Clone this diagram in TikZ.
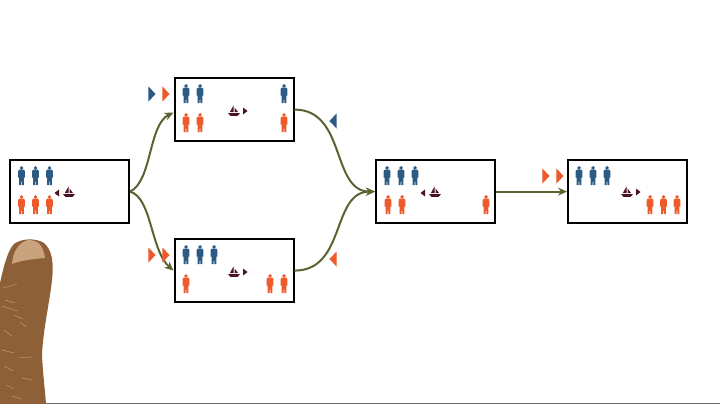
\documentclass[tikz,border=0pt]{standalone}
\usetikzlibrary{arrows.meta}
\usepackage{xcolor}
\definecolor{manblue}{HTML}{2B5A85}
\definecolor{manorange}{HTML}{EE5A2B}
\definecolor{boatred}{HTML}{4A1422}
\definecolor{linkgreen}{HTML}{5A6432}
\definecolor{skin}{HTML}{8E6038}
\definecolor{nail}{HTML}{C9A27E}
\tikzset{
 state/.style={draw=black, line width=2pt, fill=white, minimum width=119pt, minimum height=63pt, inner sep=0},
 link/.style={draw=linkgreen, line width=2pt, -{Stealth[length=9pt, width=8pt, inset=3pt]}},
 person/.pic={
  \fill[pic actions] (0,1.9) circle (1.9);
  \fill[pic actions] (-2.2,3.6) -- (2.2,3.6) -- (3.4,5) -- (3.4,11.5) -- (2.4,11.5) -- (2.4,19) -- (.5,19) -- (0,12.5) -- (-.5,19) -- (-2.4,19) -- (-2.4,11.5) -- (-3.4,11.5) -- (-3.4,5) -- cycle;
 },
 turnright/.pic={\fill[pic actions] (-3.7,-7.5) -- (3.7,0) -- (-3.7,7.5) -- cycle;},
 turnleft/.pic={\fill[pic actions] (3.7,-7.5) -- (-3.7,0) -- (3.7,7.5) -- cycle;},
 goright/.pic={\fill[boatred] (-2,-3.5) -- (2.5,0) -- (-2,3.5) -- cycle;},
 goleft/.pic={\fill[boatred] (2,-3.5) -- (-2.5,0) -- (2,3.5) -- cycle;},
 boat/.pic={
  \fill[boatred] (-.5,-5.5) -- (-4.2,1.2) -- (-.5,1.2) -- cycle;
  \fill[boatred] (.5,-3.5) -- (4.2,1.2) -- (.5,1.2) -- cycle;
  \fill[boatred] (-6,2.2) -- (6,2.2) -- (3.5,4.8) -- (-3.5,4.8) -- cycle;
 },
}
\begin{document}
\begin{tikzpicture}[x=1pt, y=-1pt]
\useasboundingbox (0,0) rectangle (720,404);
\fill[white] (0,0) rectangle (720,404);
\draw[black!60, line width=.8pt] (0,403.6)--(720,403.6);

\fill[skin] (0,404) -- (0,283) .. controls (4,265) and (8,250) .. (14,244) .. controls (22,238) and (36,238) .. (44,243) .. controls (52,250) and (54,262) .. (52,280) .. controls (50,300) and (43,330) .. (42,355) .. controls (43,375) and (45,390) .. (46,404) -- cycle;
\fill[nail] (12,264) .. controls (13,252) and (18,243) .. (28,240) .. controls (36,240) and (43,243) .. (45,258) .. controls (34,259) and (22,260) .. (12,264) -- cycle;
\foreach \x/\y/\dx/\dy in {3/288/14/-4, 5/300/10/3, 2/306/16/5, 14/315/9/4, 4/330/8/6, 20/322/6/5, 2/350/12/3, 18/358/14/-1, 4/366/9/5, 22/378/10/2, 6/385/8/4, 12/396/10/3} {
 \draw[nail, line width=.4pt] (\x,\y)--++(\dx,\dy);
}

\node[state] (boxA) at (69.5,191.6) {};
\node[state] (boxB) at (234,109.6) {};
\node[state] (boxC) at (234,270.6) {};
\node[state] (boxD) at (435.5,191.6) {};
\node[state] (boxE) at (627.5,191.6) {};

\draw[link] (boxA.east) .. controls +(22,-10) and +(-25,12) .. ([yshift=-3pt]boxB.west);
\draw[link] (boxA.east) .. controls +(22,6) and +(-23,-20) .. (boxC.west);
\draw[link] (boxB.east) .. controls +(52,0) and +(-44,0) .. (boxD.west);
\draw[link] (boxC.east) .. controls +(52,0) and +(-44,0) .. (boxD.west);
\draw[link] (boxD.east) -- (boxE.west);

\foreach \x/\y in {21.5/166,35.5/166,49.5/166, 186/84,200/84,284/84, 186/245,200/245,214/245, 387/166,401/166,415/166, 579/166,593/166,607/166} {
 \pic[manblue] at (\x,\y) {person};
}
\foreach \x/\y in {21.5/195,35.5/195,49.5/195, 186/113,200/113,284/113, 186/274,270/274,284/274, 388/195,402/195,486/195, 650/195,663.5/195,677/195} {
 \pic[manorange] at (\x,\y) {person};
}

\foreach \x/\y in {69/192,234/111,234/272,435/192,627/192} {
 \pic at (\x,\y) {boat};
}
\foreach \x/\y in {245/111,245/272,638/192} {
 \pic at (\x,\y) {goright};
}
\foreach \x/\y in {57/193,423/193} {
 \pic at (\x,\y) {goleft};
}

\pic[manblue] at (152,94) {turnright};
\pic[manorange] at (166,94) {turnright};
\pic[manorange] at (152,255) {turnright};
\pic[manorange] at (166,255) {turnright};
\pic[manblue] at (333,121) {turnleft};
\pic[manorange] at (333,259) {turnleft};
\pic[manorange] at (546,176) {turnright};
\pic[manorange] at (560,176) {turnright};
\end{tikzpicture}
\end{document}
